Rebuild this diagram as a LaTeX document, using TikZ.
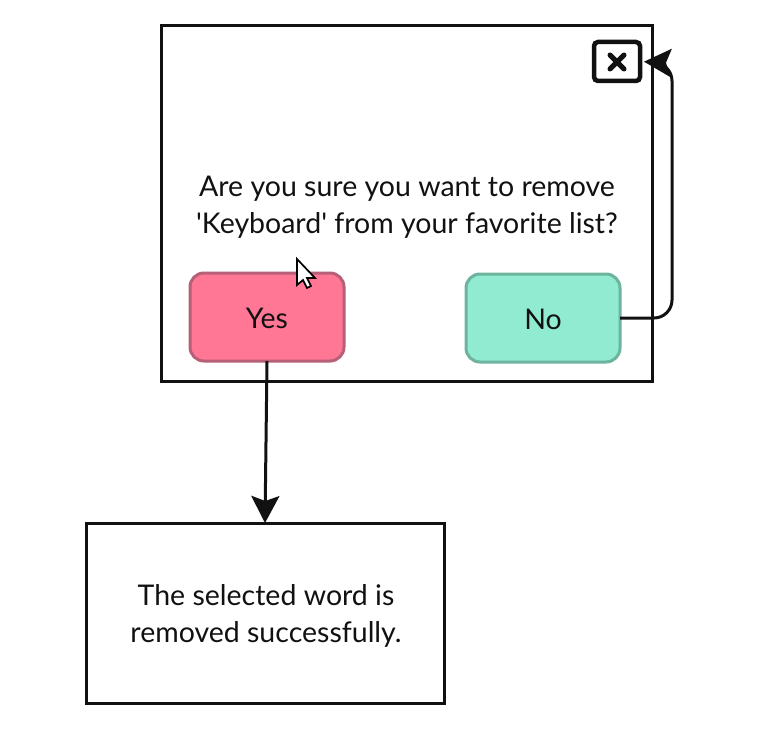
\documentclass[tikz,border=0pt]{standalone}
\usepackage{fontspec}
\newfontfamily\handface{Lato}
\usetikzlibrary{arrows.meta,positioning}
\definecolor{yesfill}{HTML}{FF7795}
\definecolor{yesline}{HTML}{B85F78}
\definecolor{nofill}{HTML}{90EBD0}
\definecolor{noline}{HTML}{6DB39E}
\definecolor{ink}{HTML}{111111}
\tikzset{
  panel/.style={draw=ink, line width=3pt, fill=white, inner sep=0pt, outer sep=0pt},
  choice/.style={line width=3pt, rounded corners=14pt, minimum width=154pt, minimum height=88pt, outer sep=0pt, text=ink, text height=23pt, text depth=0pt, font=\handface\fontsize{28.5}{32}\selectfont},
  wording/.style={align=center, text=ink, font=\handface\fontsize{28.5}{36.5}\selectfont},
  link/.style={draw=ink, line width=3pt, -{Stealth[length=27pt,width=28pt,inset=5pt]}}
}
\begin{document}
\begin{tikzpicture}[x=1pt,y=-1pt]
\useasboundingbox (0,0) rectangle (759,730);
\node [panel, minimum width=491pt, minimum height=355pt] (dialog) at (406.5,203.5) {};
\node [panel, minimum width=358pt, minimum height=180pt] (result) at (265,613) {};
\node [panel, line width=4.5pt, rounded corners=4pt, minimum width=46pt, minimum height=39pt] (close) at (617,61.5) {};
\node [choice, draw=yesline, fill=yesfill] (yes) at (267,317) {Yes};
\node [choice, draw=noline, fill=nofill] (no) at (543,318) {No};
\node [wording] (question) at (407,207) {Are you sure you want to remove\\'Keyboard' from your favorite list?};
\node [wording] (done) at (266,616) {The selected word is\\removed successfully.};

% close icon
\draw [ink, line width=5pt, line cap=round] (610,55) -- (624,69) (624,55) -- (610,69);

% mouse pointer
\draw [black, fill=white, line width=1.7pt, line join=miter]
  (297,259) -- (297,285) -- (303,280) -- (307,288) -- (311,286) -- (307,278) -- (315,278) -- cycle;

\coordinate (bend) at (672,63);
\path [link] (yes.south) -- (result.north);
\path [link, rounded corners=18pt, shorten >=4pt] (no.east) -- (no.east -| bend) -- (bend) -- (close.east);
\end{tikzpicture}
\end{document}
